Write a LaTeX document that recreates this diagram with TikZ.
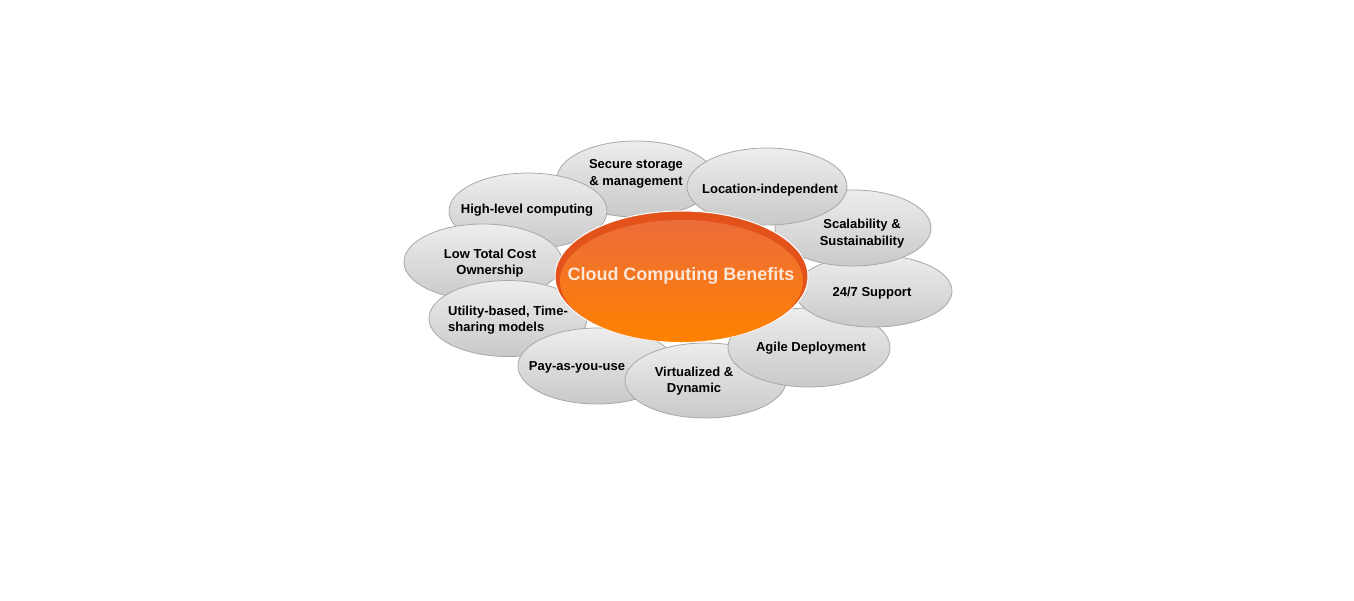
\documentclass[tikz,border=0pt]{standalone}
\usepackage{fontspec}
\setmainfont{Liberation Sans}
\usetikzlibrary{shapes.geometric}
\definecolor{gtop}{HTML}{EDEDED}
\definecolor{gmid}{HTML}{DEDEDE}
\definecolor{gbot}{HTML}{C9C9C9}
\definecolor{gline}{HTML}{A8A8A8}
\definecolor{orim}{HTML}{E4521C}
\definecolor{otop}{HTML}{EC6C3A}
\definecolor{obot}{HTML}{FF8200}
\definecolor{otext}{HTML}{FCE6D8}
\tikzset{
  petal/.style={ellipse, draw=gline, line width=0.8pt, inner sep=0pt,
    minimum width=158pt, minimum height=76pt,
    top color=gtop, middle color=gmid, bottom color=gbot},
  lbl/.style={font=\bfseries\fontsize{13}{16.5}\selectfont, text=black, align=center, inner sep=0pt},
}
\begin{document}
\begin{tikzpicture}[x=1pt,y=-1pt]
\useasboundingbox (0,0) rectangle (1354,600);
\fill[white] (0,0) rectangle (1354,600);
% petals in stacking order
\node[petal] (p1) at (636,179) {};
\node[petal] (p10) at (528,211) {};
\node[petal] (p9) at (483,262) {};
\node[petal] (p8) at (508,318.5) {};
\node[petal] (p7) at (597,366) {};
\node[petal, minimum width=161pt, minimum height=75pt] (p6) at (705.5,380.5) {};
\node[petal, minimum width=162pt, minimum height=79pt] (p5) at (809,347.5) {};
\node[petal, minimum width=157pt, minimum height=72pt] (p4) at (873.5,291) {};
\node[petal, minimum width=156pt, minimum height=76pt] (p3) at (853,228) {};
\node[petal, minimum width=160pt, minimum height=77pt] (p2) at (767,186.5) {};
% labels
\node[lbl] (t1) at (636,174) {Secure storage\\\& management};
\node[lbl] (t2) at (770,190) {Location-independent};
\node[lbl] (t3) at (862,233.5) {Scalability \&\\Sustainability};
\node[lbl] (t4) at (872,293) {24/7 Support};
\node[lbl] (t5) at (811,348) {Agile Deployment};
\node[lbl] (t6) at (694,381) {Virtualized \&\\Dynamic};
\node[lbl] (t7) at (577,367) {Pay-as-you-use};
\node[lbl, align=left] (t8) at (508,320) {Utility-based, Time-\\sharing models};
\node[lbl] (t9) at (490,263) {Low Total Cost\\Ownership};
\node[lbl] (t10) at (527,210) {High-level computing};
% centre
\node[ellipse, inner sep=0pt, minimum width=253pt, minimum height=131pt,
  fill=orim, draw=white, line width=1pt] (c) at (681.5,276.5) {};
\node[ellipse, inner sep=0pt, minimum width=243pt, minimum height=122pt,
  top color=otop, bottom color=obot] (ci) at (681.5,281) {};
\node[font=\bfseries\fontsize{18}{20}\selectfont, text=otext, inner sep=0pt] (ct) at (681,276) {Cloud Computing Benefits};
\end{tikzpicture}
\end{document}
